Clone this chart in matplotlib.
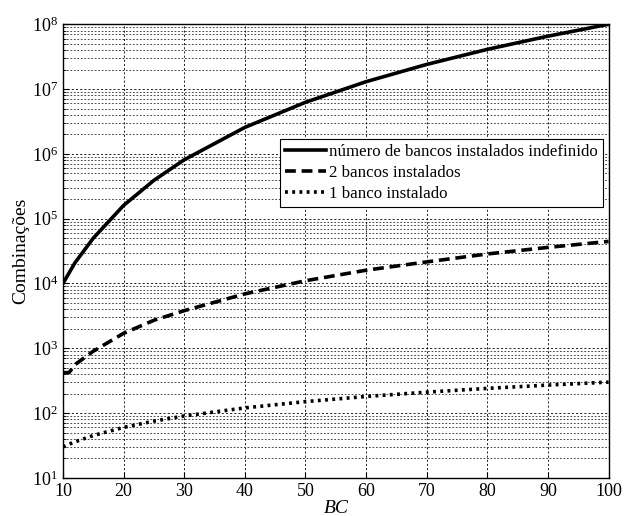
import matplotlib
matplotlib.use('Agg')
from matplotlib import pyplot as plt
from matplotlib.ticker import FixedLocator, NullFormatter

# values
bc = [10, 11, 12, 15, 20, 25, 30, 40, 50, 60, 70, 80, 90, 100]
indefinido = [1.0e4, 1.45e4, 2.1e4, 5.0e4, 1.6e5, 3.9e5, 8.1e5, 2.56e6, 6.25e6,
              1.3e7, 2.4e7, 4.1e7, 6.55e7, 1.0e8]
dois_bancos = [420, 420, 560, 900, 1700, 2700, 3800, 6900, 11000, 16000,
               21500, 28500, 36000, 44500]
um_banco = [30, 33, 36, 45, 60, 75, 90, 120, 150, 180, 210, 240, 270, 300]
labels = ['número de bancos instalados indefinido', '2 bancos instalados',
          '1 banco instalado']
decades = [10.0 ** k for k in range(1, 9)]

plt.rcParams['font.family'] = ['Liberation Serif', 'DejaVu Serif']

fig = plt.figure(figsize=(6.33, 5.16), dpi=100)
ax = fig.add_axes([0.0995, 0.074, 0.862, 0.879])

ax.semilogy(bc, indefinido, 'k-', lw=2.6, label=labels[0])
ax.semilogy(bc, dois_bancos, 'k--', lw=2.6, dashes=(3, 1.6), label=labels[1])
ax.semilogy(bc, um_banco, 'k:', lw=2.6, dashes=(0.8, 1.2), label=labels[2])

ax.set_xlim(10, 100)
ax.set_ylim(10, 1e8)
ax.set_xticks(range(10, 101, 10))
ax.set_yticks(decades)
minors = [m * d for d in decades[:-1] for m in range(2, 10)]
ax.yaxis.set_minor_locator(FixedLocator(minors))
ax.yaxis.set_minor_formatter(NullFormatter())
ax.grid(True, which='major', color='k', ls=(0, (2.5, 2.5)), lw=0.6)
ax.grid(True, which='minor', axis='y', color='k', ls=(0, (2.5, 2.5)), lw=0.5)
ax.tick_params(which='both', direction='in', labelsize=13)
ax.tick_params(which='major', length=4)
ax.tick_params(which='minor', length=2)
for s in ax.spines.values():
    s.set_linewidth(1.0)

ax.set_xlabel('BC', fontsize=14, style='italic', labelpad=0)
ax.set_ylabel('Combinações', fontsize=14, labelpad=2)

leg = ax.legend(loc='upper left', bbox_to_anchor=(0.398, 0.748), fontsize=12.2,
                frameon=True, fancybox=False, framealpha=1, edgecolor='k',
                handlelength=2.4, handletextpad=0.2, borderpad=0.3,
                labelspacing=0.3, borderaxespad=0)
leg.get_frame().set_linewidth(0.8)

plt.savefig('out.png', dpi=100)
